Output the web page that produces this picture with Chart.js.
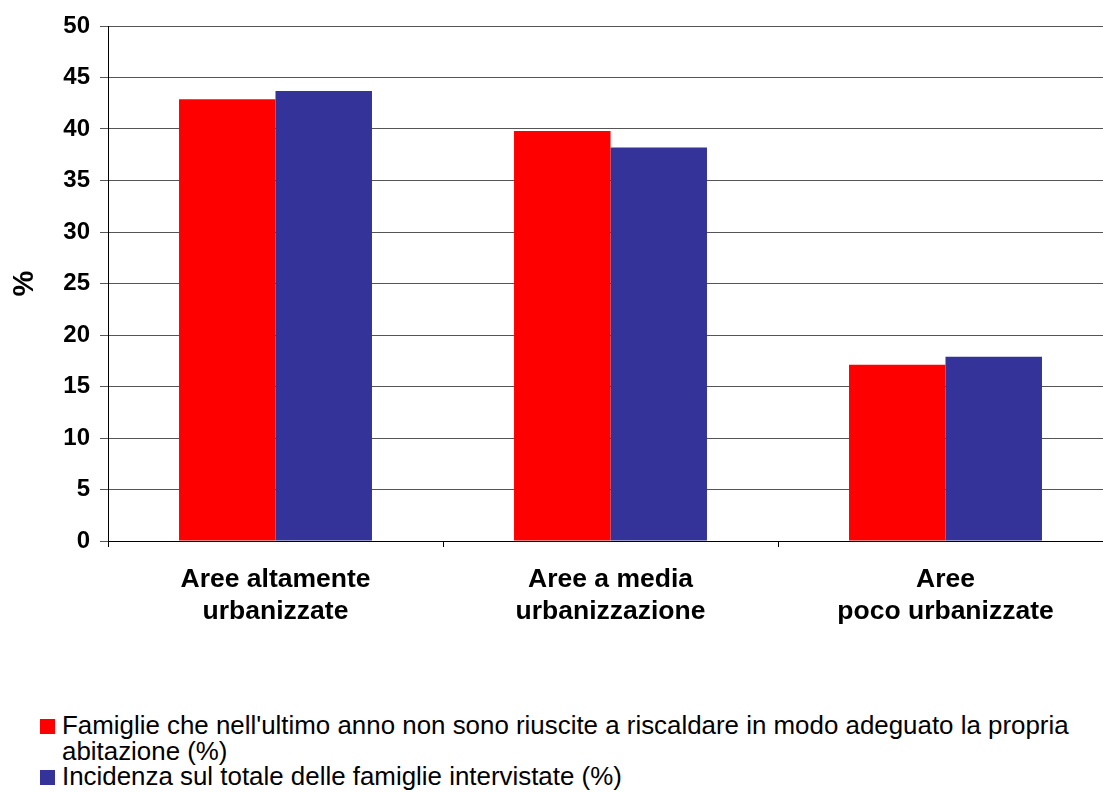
<!DOCTYPE html>
<html>
<head>
<meta charset="utf-8">
<script src="https://cdn.jsdelivr.net/npm/chart.js@4.4.0/dist/chart.umd.min.js"></script>
<style>
  html, body { margin: 0; padding: 0; background: #fff; overflow: hidden; }
  #wrap { position: absolute; left: 0; top: 0; width: 1113px; height: 660px; }
  #legend { position: absolute; left: 38px; top: 713px; width: 1060px;
    font-family: "Liberation Sans", Arial, sans-serif; font-size: 25.9px; line-height: 25.5px; color: #000; }
  .item { position: relative; padding-left: 24px; }
  .box { position: absolute; left: 2px; top: 6px; width: 15px; height: 15px; }
</style>
</head>
<body>
<div id="wrap"><canvas id="chart" width="1113" height="660"></canvas></div>
<div id="legend"></div>
<script>
const categories = [
  ["Aree altamente", "urbanizzate"],
  ["Aree a media", "urbanizzazione"],
  ["Aree", "poco urbanizzate"],
];
const famiglieNonRiscaldate = [42.9, 39.8, 17.1];
const incidenzaTotale = [43.7, 38.2, 17.9];
const seriesLabels = [
  "Famiglie che nell'ultimo anno non sono riuscite a riscaldare in modo adeguato la propria abitazione (%)",
  "Incidenza sul totale delle famiglie intervistate (%)",
];
const seriesColors = ["#ff0000", "#333399"];

const font = "'Liberation Sans', Arial, sans-serif";

const ctx = document.getElementById("chart").getContext("2d");
const chart = new Chart(ctx, {
  type: "bar",
  data: {
    labels: categories,
    datasets: [
      { label: seriesLabels[0], data: famiglieNonRiscaldate, backgroundColor: seriesColors[0] },
      { label: seriesLabels[1], data: incidenzaTotale, backgroundColor: seriesColors[1] },
    ],
  },
  options: {
    responsive: false,
    animation: false,
    layout: { padding: { top: 26, right: 0, left: 0, bottom: 0 } },
    datasets: { bar: { categoryPercentage: 0.576, barPercentage: 1.0 } },
    plugins: { legend: { display: false }, tooltip: { enabled: false } },
    scales: {
      x: {
        grid: { drawOnChartArea: false, tickLength: 6, color: "#000", offset: true },
        border: { color: "#000", width: 1 },
        ticks: { color: "#000", font: { family: font, size: 26.5, weight: "bold", lineHeight: 1.2 }, padding: 17, maxRotation: 0 },
        afterFit: (s) => { s.height = 119; },
      },
      y: {
        min: 0,
        max: 50,
        ticks: { stepSize: 5, color: "#000", font: { family: font, size: 24, weight: "bold" }, padding: 10 },
        grid: { color: "#555", tickLength: 8 },
        border: { color: "#000", width: 1 },
        title: { display: true, text: "%", color: "#000", font: { family: font, size: 29, weight: "bold" }, padding: { top: 8, bottom: 0 } },
        afterFit: (s) => { s.width = 108; },
      },
    },
  },
});

// legend drawn as html so long labels can wrap like the original
const legend = document.getElementById("legend");
seriesLabels.forEach((txt, i) => {
  const d = document.createElement("div");
  d.className = "item";
  d.innerHTML = '<span class="box" style="background:' + seriesColors[i] + '"></span>' + txt;
  legend.appendChild(d);
});
</script>
</body>
</html>
